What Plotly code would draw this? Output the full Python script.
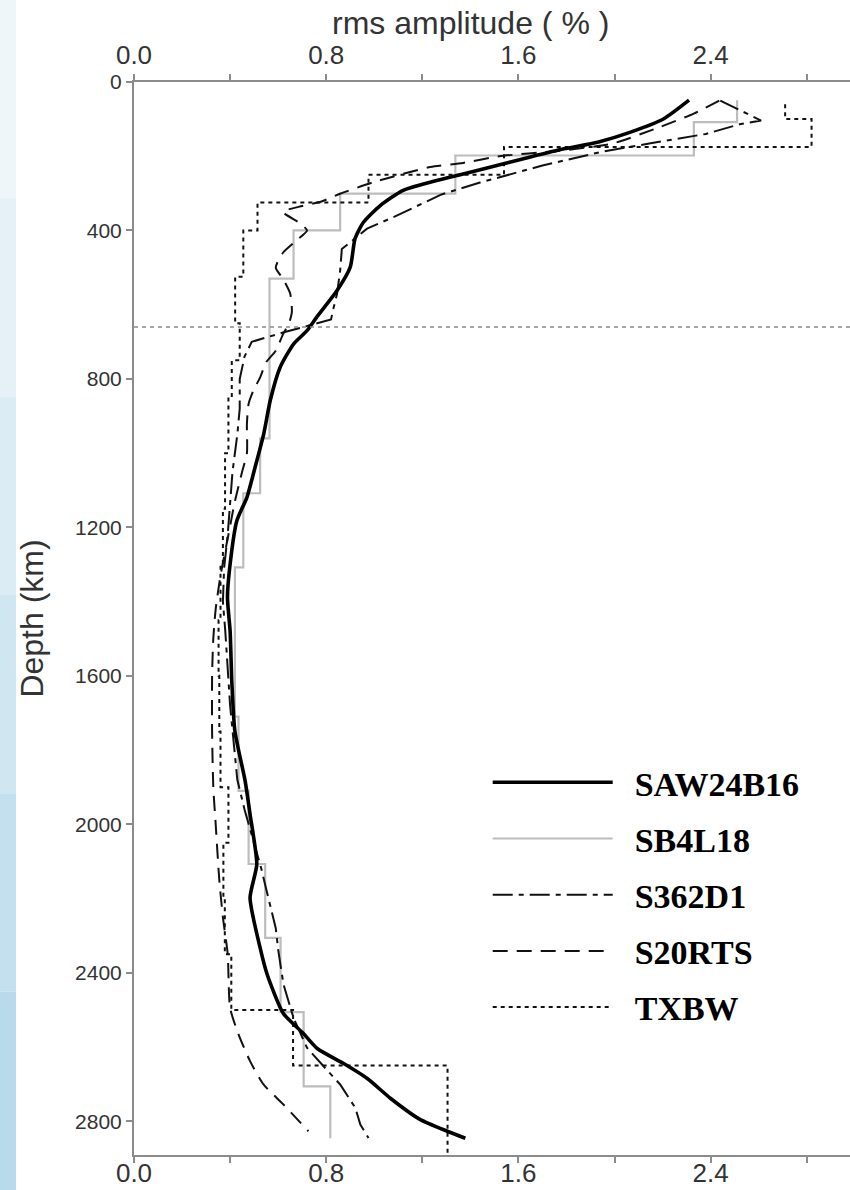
import plotly.graph_objects as go

# ---------------- data ----------------
# SAW24B16 : smooth profile (depth km, rms amplitude %)
saw_depth = [49, 99, 135, 162, 180, 202, 225, 252, 270, 292, 333, 378, 422, 499, 562, 634, 670, 706,
             769, 858, 948, 1038, 1119, 1182, 1299, 1389, 1479, 1614, 1749, 1883, 1973, 2108, 2198,
             2333, 2404, 2509, 2563, 2604, 2644, 2685, 2738, 2795, 2827, 2846]
saw_amp = [2.31, 2.205, 2.067, 1.93, 1.79, 1.65, 1.51, 1.345, 1.233, 1.12, 1.025, 0.955, 0.92, 0.90,
           0.845, 0.76, 0.72, 0.664, 0.608, 0.567, 0.54, 0.504, 0.47, 0.428, 0.40, 0.389, 0.40, 0.407,
           0.42, 0.4625, 0.483, 0.511, 0.483, 0.525, 0.554, 0.621, 0.704, 0.7625, 0.871, 0.971, 1.067,
           1.19, 1.304, 1.379]

# SB4L18 : layered model (layer tops, bottom of last layer, values)
sb4_tops = [49, 108, 198, 301, 400, 530, 960, 1108, 1308, 1710, 1910, 2107, 2306, 2506, 2706]
sb4_bottom = 2846
sb4_amp = [2.51, 2.33, 1.3375, 0.858, 0.664, 0.564, 0.525, 0.455, 0.42, 0.435, 0.477, 0.546, 0.61,
           0.706, 0.817]

# S362D1 : smooth with discontinuity at 650 km
s362_depth = [50, 104, 114, 140, 165, 189, 225, 271, 303, 364, 395, 420, 450, 508, 571, 610, 640,
              675, 700, 740, 800, 880, 950, 1050, 1130, 1220, 1310, 1400, 1480, 1580, 1680, 1780,
              1880, 1960, 2050, 2120, 2190, 2280, 2342, 2431, 2522, 2602, 2652, 2701, 2764, 2809, 2845]
s362_amp = [2.44, 2.61, 2.52, 2.38, 2.15, 1.94, 1.70, 1.44, 1.28, 1.08, 0.97, 0.92, 0.865, 0.858,
            0.845, 0.83, 0.82, 0.62, 0.49, 0.46, 0.44, 0.44, 0.43, 0.41, 0.40, 0.39, 0.375, 0.37,
            0.38, 0.39, 0.40, 0.415, 0.43, 0.46, 0.50, 0.53, 0.556, 0.59, 0.601, 0.622, 0.664, 0.72,
            0.789, 0.858, 0.921, 0.942, 0.976]

# S20RTS : smooth spline model
s20_depth = [50, 85, 121, 166, 186, 200, 218, 229, 270, 301, 322, 334, 350, 380, 400, 425, 460, 500,
             530, 570, 620, 650, 680, 724, 755, 796, 831, 867, 920, 1000, 1050, 1130, 1230, 1330,
             1420, 1500, 1600, 1750, 1900, 2000, 2150, 2250, 2350, 2495, 2566, 2638, 2701, 2755, 2827]
s20_amp = [2.436, 2.33, 2.19, 1.99, 1.76, 1.52, 1.37, 1.233, 0.997, 0.858, 0.78, 0.70, 0.62, 0.69,
           0.72, 0.68, 0.62, 0.59, 0.62, 0.65, 0.657, 0.645, 0.62, 0.59, 0.55, 0.525, 0.497, 0.477,
           0.47, 0.47, 0.45, 0.42, 0.39, 0.36, 0.34, 0.33, 0.325, 0.325, 0.33, 0.34, 0.355, 0.37,
           0.39, 0.40, 0.435, 0.483, 0.539, 0.622, 0.726]

# TXBW : layered model
tx_tops = [60, 100, 175, 250, 325, 400, 525, 650, 750, 850, 1000, 1150, 1300, 1450, 1600, 1750, 1900,
           2050, 2200, 2350, 2500, 2650]
tx_bottom = 2891
tx_amp = [2.71, 2.82, 1.54, 0.976, 0.514, 0.455, 0.421, 0.44, 0.407, 0.393, 0.379, 0.37, 0.36, 0.352,
          0.355, 0.36, 0.393, 0.372, 0.378, 0.405, 0.662, 1.305]

transition_depth = 660
depth_range = [2891, 0]
amp_range = [0, 2.98]

# ---------------- figure ----------------
NB = "\u00a0\u00a0"
fig = go.Figure()

legend_font = dict(family="Liberation Serif, Times New Roman, serif", size=34, color="black",
                   weight="bold")

fig.add_trace(go.Scatter(x=[amp_range[0], amp_range[1]], y=[transition_depth, transition_depth],
                         mode="lines", xaxis="x2",
                         line=dict(color="#8a8a8a", width=1.6, dash="4px,4px"),
                         showlegend=False, hoverinfo="skip"))

fig.add_trace(go.Scatter(x=sb4_amp + [sb4_amp[-1]], y=sb4_tops + [sb4_bottom], mode="lines",
                         line=dict(color="#bdbdbd", width=2.2, shape="vh"), name=NB + "SB4L18",
                         legendrank=2, legendgroup="b"))
fig.add_trace(go.Scatter(x=tx_amp + [tx_amp[-1]], y=tx_tops + [tx_bottom], mode="lines",
                         line=dict(color="#111111", width=2.0, shape="vh", dash="4px,4px"),
                         name=NB + "TXBW", legendrank=5, legendgroup="e"))
fig.add_trace(go.Scatter(x=s20_amp, y=s20_depth, mode="lines",
                         line=dict(color="#111111", width=2.0, dash="15px,9px", shape="spline",
                                   smoothing=0.6),
                         name=NB + "S20RTS", legendrank=4, legendgroup="d"))
fig.add_trace(go.Scatter(x=s362_amp, y=s362_depth, mode="lines",
                         line=dict(color="#111111", width=2.0, dash="20px,6px,5px,6px"),
                         name=NB + "S362D1", legendrank=3, legendgroup="c"))
fig.add_trace(go.Scatter(x=saw_amp, y=saw_depth, mode="lines",
                         line=dict(color="black", width=3.6, shape="spline", smoothing=0.6),
                         name=NB + "SAW24B16", legendrank=1, legendgroup="a"))

axis_common = dict(showline=True, linecolor="#8c8c8c", linewidth=2, ticks="outside", ticklen=6,
                   tickwidth=1.5, tickcolor="#8c8c8c", showgrid=False, zeroline=False)

tick_font_x = dict(family="Liberation Sans, Arial, sans-serif", size=26, color="#333333")
title_font = dict(family="Liberation Sans, Arial, sans-serif", size=32, color="#333333")

fig.update_layout(
    width=850, height=1190,
    margin=dict(l=134, r=0, t=82, b=35, autoexpand=False),
    paper_bgcolor="white", plot_bgcolor="white",
    xaxis=dict(range=amp_range, tick0=0, dtick=0.8, tickformat=".1f", ticklabelstandoff=-12,
               minor=dict(dtick=0.4, ticks="outside", ticklen=6, tickcolor="#8c8c8c", showgrid=False),
               tickfont=tick_font_x, **axis_common),
    xaxis2=dict(range=amp_range, overlaying="x", side="top", matches="x", tick0=0, dtick=0.8,
                tickformat=".1f",
                minor=dict(dtick=0.4, ticks="outside", ticklen=6, tickcolor="#8c8c8c", showgrid=False),
                tickfont=tick_font_x, **axis_common),
    yaxis=dict(range=depth_range, tick0=0, dtick=400,
               tickfont=dict(family="Liberation Sans, Arial, sans-serif", size=21, color="#333333"),
               title=dict(text="Depth (km)", font=title_font, standoff=22),
               **axis_common),
    showlegend=True,
    legend=dict(x=0.494, y=0.374, xanchor="left", yanchor="top", bgcolor="rgba(0,0,0,0)",
                font=legend_font, itemwidth=120, tracegroupgap=9, traceorder="grouped"),
)

# axis title of the top axis
fig.add_annotation(text="rms amplitude ( % )", xref="paper", yref="paper",
                   x=(470 - 134) / 716, y=1 + 59 / 1073, xanchor="center", yanchor="middle",
                   showarrow=False, font=title_font)

# light blue strip at the left edge of the page (scanned background)
strip_cols = ["#eef6fa", "#e6f1f7", "#dcecf4", "#d0e6f1", "#c4e0ee", "#b8daeb"]
n = len(strip_cols)
for i, c in enumerate(strip_cols):
    fig.add_shape(type="rect", xref="paper", yref="paper", x0=-134 / 716, x1=-118 / 716,
                  y0=1 + 82 / 1073 - (i + 1) * (1190 / 1073) / n,
                  y1=1 + 82 / 1073 - i * (1190 / 1073) / n,
                  fillcolor=c, line=dict(width=0), layer="below")

fig.write_html("out.html")
